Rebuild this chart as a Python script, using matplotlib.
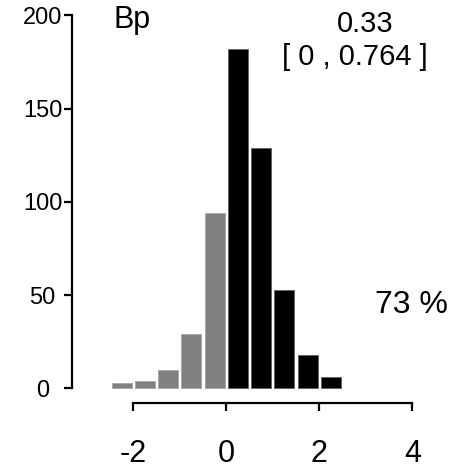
import numpy as np
import matplotlib
matplotlib.use("Agg")
import matplotlib.pyplot as plt

plt.rcParams['font.family'] = ['Liberation Sans', 'DejaVu Sans']
plt.rcParams['axes.unicode_minus'] = False

# histogram of Bp, bins of width 0.5
bin_left = [-2.5, -2.0, -1.5, -1.0, -0.5, 0.0, 0.5, 1.0, 1.5, 2.0]
counts = [3, 4, 10, 29, 94, 182, 129, 53, 18, 6]
x_ticks = [-2, 0, 2, 4]
y_ticks = [0, 50, 100, 150, 200]
label = "Bp"
estimate = "0.33"
interval = "[ 0 , 0.764 ]"
percent = "73 %"

W, H = 454, 469
fig = plt.figure(figsize=(W / 100, H / 100), dpi=100)
ax = fig.add_axes([71.7 / W, 1 - 403.3 / H, 1 - 71.7 / W, 403.3 / H])

bin_w = 0.5
centers = np.array(bin_left) + bin_w / 2
colors = ['#808080' if c < 0 else 'black' for c in centers]
edges = ['#a8a8a8' if c < 0 else '#606060' for c in centers]
ax.bar(centers, counts, width=0.43, color=colors, edgecolor=edges, linewidth=0.6)

ax.set_xlim(-3.325, 4.897)
ax.set_ylim(-7.94, 208.3)
ax.set_xticks(x_ticks)
ax.set_yticks(y_ticks)
ax.set_xticklabels([str(t) for t in x_ticks])
ax.set_yticklabels([str(t) for t in y_ticks])

for s in ['top', 'right']:
    ax.spines[s].set_visible(False)
ax.spines['left'].set_bounds(0, 200)
ax.spines['bottom'].set_bounds(-2, 4)
for s in ['left', 'bottom']:
    ax.spines[s].set_linewidth(1.6)

ax.tick_params(axis='x', length=6, width=1.6, pad=20, labelsize=22)
ax.tick_params(axis='y', length=6, width=1.6, pad=15, labelsize=17)
for t in ax.get_yticklabels():
    t.set_horizontalalignment('center')

fig.text(113 / W, 1 - 28.3 / H, label, fontsize=22, va='baseline', ha='left')
fig.text(365.5 / W, 1 - 32 / H, estimate, fontsize=21, va='baseline', ha='center')
fig.text(355 / W, 1 - 65 / H, interval, fontsize=21, va='baseline', ha='center')
fig.text(375 / W, 1 - 313 / H, percent, fontsize=23, va='baseline', ha='left')

fig.savefig("out.png", dpi=100)
